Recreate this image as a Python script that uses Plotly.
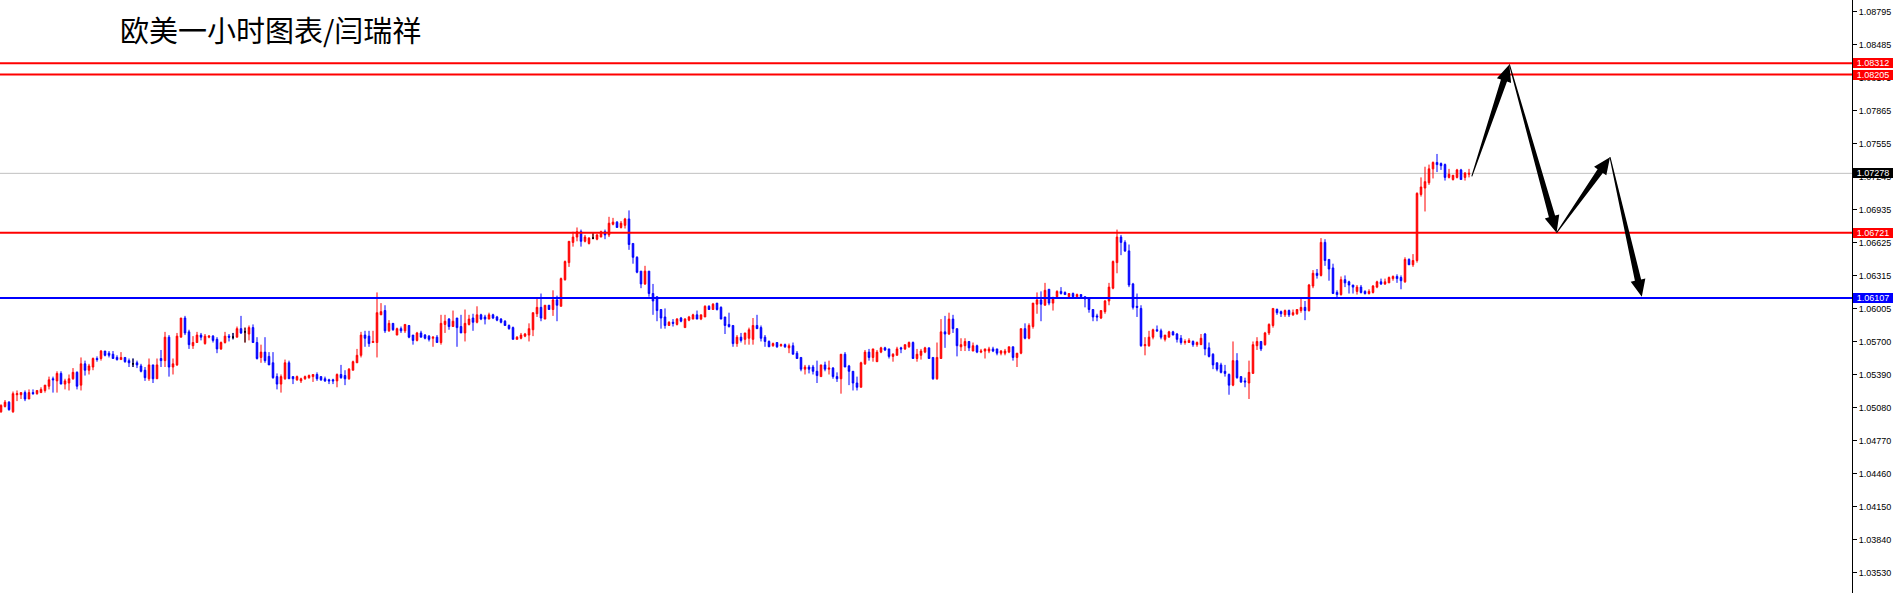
import math
import plotly.graph_objects as go

title_text = "欧美一小时图表/闫瑞祥"

opens = [
 1.0504,1.0509,1.0513,1.0504,1.0520,1.0520,1.0522,1.0516,1.0522,1.0521,
 1.0522,1.0524,1.0528,1.0535,1.0533,1.0540,1.0530,1.0531,1.0535,1.0541,
 1.0529,1.0549,1.0543,1.0546,1.0554,1.0554,1.0561,1.0559,1.0558,1.0555,
 1.0553,1.0555,1.0552,1.0549,1.0550,1.0547,1.0543,1.0535,1.0548,1.0535,
 1.0554,1.0552,1.0574,1.0546,1.0548,1.0574,1.0592,1.0579,1.0566,1.0569,
 1.0576,1.0568,1.0574,1.0575,1.0572,1.0563,1.0569,1.0575,1.0574,1.0574,
 1.0582,1.0579,1.0577,1.0583,1.0569,1.0555,1.0560,1.0556,1.0550,1.0537,
 1.0530,1.0535,1.0550,1.0537,1.0534,1.0533,1.0535,1.0536,1.0537,1.0539,
 1.0537,1.0535,1.0534,1.0534,1.0533,1.0539,1.0538,1.0535,1.0543,1.0550,
 1.0557,1.0576,1.0575,1.0569,1.0569,1.0595,1.0599,1.0580,1.0587,1.0576,
 1.0582,1.0580,1.0585,1.0576,1.0571,1.0578,1.0576,1.0575,1.0573,1.0574,
 1.0569,1.0586,1.0591,1.0584,1.0592,1.0584,1.0578,1.0586,1.0592,1.0588,
 1.0595,1.0593,1.0591,1.0595,1.0593,1.0591,1.0589,1.0585,1.0583,1.0572,
 1.0573,1.0575,1.0576,1.0581,1.0596,1.0602,1.0591,1.0604,1.0600,1.0609,
 1.0603,1.0628,1.0644,1.0663,1.0668,1.0673,1.0664,1.0662,1.0667,1.0666,
 1.0668,1.0673,1.0670,1.0680,1.0682,1.0677,1.0679,1.0685,1.0662,1.0649,
 1.0636,1.0624,1.0636,1.0615,1.0612,1.0600,1.0593,1.0585,1.0588,1.0586,
 1.0592,1.0583,1.0590,1.0591,1.0595,1.0591,1.0593,1.0603,1.0600,1.0606,
 1.0602,1.0593,1.0586,1.0585,1.0568,1.0574,1.0572,1.0573,1.0572,1.0585,
 1.0583,1.0574,1.0570,1.0566,1.0569,1.0566,1.0567,1.0564,1.0566,1.0559,
 1.0555,1.0544,1.0546,1.0546,1.0542,1.0537,1.0548,1.0544,1.0545,1.0537,
 1.0535,1.0558,1.0547,1.0542,1.0531,1.0527,1.0549,1.0560,1.0555,1.0551,
 1.0560,1.0564,1.0563,1.0556,1.0557,1.0564,1.0563,1.0565,1.0569,1.0554,
 1.0557,1.0560,1.0564,1.0555,1.0535,1.0554,1.0579,1.0577,1.0591,1.0582,
 1.0565,1.0566,1.0570,1.0561,1.0566,1.0560,1.0561,1.0561,1.0563,1.0563,
 1.0559,1.0559,1.0560,1.0565,1.0555,1.0559,1.0582,1.0573,1.0584,1.0605,
 1.0609,1.0604,1.0619,1.0606,1.0612,1.0617,1.0616,1.0612,1.0615,1.0612,
 1.0614,1.0612,1.0610,1.0600,1.0594,1.0592,1.0598,1.0608,1.0620,1.0644,
 1.0668,1.0663,1.0655,1.0624,1.0603,1.0601,1.0566,1.0566,1.0574,1.0581,
 1.0580,1.0572,1.0574,1.0579,1.0577,1.0573,1.0569,1.0569,1.0570,1.0567,
 1.0567,1.0577,1.0564,1.0558,1.0550,1.0548,1.0542,1.0539,1.0529,1.0552,
 1.0537,1.0533,1.0531,1.0540,1.0566,1.0570,1.0567,1.0578,1.0585,1.0600,
 1.0598,1.0595,1.0599,1.0595,1.0596,1.0599,1.0602,1.0599,1.0622,1.0634,
 1.0632,1.0663,1.0647,1.0639,1.0616,1.0614,1.0628,1.0626,1.0623,1.0617,
 1.0621,1.0617,1.0615,1.0616,1.0621,1.0626,1.0624,1.0625,1.0629,1.0631,
 1.0630,1.0626,1.0647,1.0642,1.0646,1.0708,1.0714,1.0719,1.0732,1.0738,
 1.0737,1.0736,1.0724,1.0722,1.0724,1.0731,1.0724,1.0727,
]

highs = [
 1.0511,1.0515,1.0514,1.0523,1.0524,1.0522,1.0524,1.0525,1.0525,1.0524,
 1.0527,1.0529,1.0537,1.0537,1.0542,1.0542,1.0535,1.0539,1.0545,1.0542,
 1.0555,1.0552,1.0549,1.0555,1.0556,1.0562,1.0561,1.0561,1.0561,1.0557,
 1.0560,1.0555,1.0554,1.0554,1.0552,1.0549,1.0546,1.0554,1.0548,1.0554,
 1.0562,1.0579,1.0576,1.0554,1.0578,1.0592,1.0594,1.0581,1.0575,1.0579,
 1.0578,1.0577,1.0576,1.0576,1.0574,1.0570,1.0579,1.0577,1.0578,1.0584,
 1.0594,1.0583,1.0585,1.0586,1.0574,1.0567,1.0574,1.0560,1.0560,1.0540,
 1.0539,1.0553,1.0552,1.0537,1.0538,1.0536,1.0538,1.0539,1.0539,1.0541,
 1.0537,1.0537,1.0535,1.0535,1.0540,1.0548,1.0543,1.0545,1.0552,1.0563,
 1.0579,1.0580,1.0580,1.0580,1.0616,1.0606,1.0604,1.0590,1.0587,1.0583,
 1.0584,1.0586,1.0585,1.0576,1.0579,1.0580,1.0577,1.0576,1.0575,1.0576,
 1.0595,1.0595,1.0592,1.0599,1.0592,1.0595,1.0600,1.0595,1.0596,1.0603,
 1.0596,1.0595,1.0597,1.0596,1.0594,1.0592,1.0590,1.0586,1.0584,1.0575,
 1.0578,1.0578,1.0587,1.0597,1.0610,1.0615,1.0604,1.0604,1.0618,1.0613,
 1.0630,1.0646,1.0664,1.0673,1.0677,1.0675,1.0670,1.0668,1.0672,1.0671,
 1.0674,1.0675,1.0687,1.0686,1.0683,1.0683,1.0686,1.0693,1.0662,1.0650,
 1.0636,1.0641,1.0636,1.0624,1.0612,1.0600,1.0601,1.0589,1.0591,1.0592,
 1.0593,1.0592,1.0594,1.0596,1.0599,1.0595,1.0604,1.0604,1.0606,1.0606,
 1.0603,1.0593,1.0597,1.0585,1.0576,1.0578,1.0578,1.0583,1.0592,1.0595,
 1.0585,1.0576,1.0571,1.0569,1.0569,1.0568,1.0568,1.0568,1.0569,1.0561,
 1.0555,1.0548,1.0548,1.0548,1.0552,1.0548,1.0551,1.0552,1.0546,1.0541,
 1.0558,1.0560,1.0548,1.0542,1.0537,1.0551,1.0562,1.0563,1.0563,1.0562,
 1.0565,1.0565,1.0563,1.0559,1.0565,1.0565,1.0567,1.0570,1.0570,1.0563,
 1.0563,1.0565,1.0564,1.0555,1.0569,1.0591,1.0594,1.0597,1.0595,1.0582,
 1.0573,1.0573,1.0570,1.0569,1.0567,1.0563,1.0563,1.0565,1.0565,1.0563,
 1.0562,1.0563,1.0565,1.0565,1.0559,1.0582,1.0587,1.0587,1.0606,1.0616,
 1.0617,1.0625,1.0619,1.0612,1.0618,1.0621,1.0617,1.0615,1.0616,1.0615,
 1.0614,1.0612,1.0610,1.0600,1.0596,1.0599,1.0609,1.0625,1.0646,1.0675,
 1.0670,1.0665,1.0661,1.0625,1.0615,1.0604,1.0574,1.0580,1.0582,1.0585,
 1.0582,1.0576,1.0580,1.0580,1.0578,1.0576,1.0572,1.0573,1.0571,1.0570,
 1.0577,1.0578,1.0569,1.0559,1.0550,1.0550,1.0548,1.0540,1.0570,1.0559,
 1.0537,1.0536,1.0552,1.0570,1.0574,1.0570,1.0579,1.0587,1.0601,1.0601,
 1.0599,1.0600,1.0600,1.0600,1.0600,1.0610,1.0608,1.0624,1.0637,1.0638,
 1.0667,1.0666,1.0647,1.0643,1.0618,1.0631,1.0632,1.0627,1.0623,1.0623,
 1.0623,1.0618,1.0619,1.0623,1.0627,1.0629,1.0629,1.0631,1.0632,1.0633,
 1.0632,1.0649,1.0648,1.0652,1.0710,1.0724,1.0734,1.0736,1.0739,1.0746,
 1.0738,1.0737,1.0732,1.0726,1.0732,1.0732,1.0729,1.0732,
]

lows = [
 1.0503,1.0508,1.0505,1.0503,1.0514,1.0516,1.0514,1.0516,1.0520,1.0520,
 1.0522,1.0522,1.0525,1.0522,1.0522,1.0530,1.0525,1.0524,1.0534,1.0525,
 1.0524,1.0538,1.0539,1.0543,1.0551,1.0552,1.0556,1.0555,1.0554,1.0552,
 1.0553,1.0550,1.0546,1.0546,1.0545,1.0541,1.0533,1.0533,1.0531,1.0535,
 1.0546,1.0546,1.0537,1.0539,1.0547,1.0574,1.0576,1.0563,1.0563,1.0569,
 1.0571,1.0567,1.0573,1.0569,1.0559,1.0562,1.0568,1.0570,1.0572,1.0574,
 1.0577,1.0569,1.0571,1.0569,1.0553,1.0550,1.0550,1.0548,1.0535,1.0525,
 1.0522,1.0534,1.0535,1.0530,1.0533,1.0531,1.0534,1.0535,1.0532,1.0533,
 1.0533,1.0532,1.0530,1.0530,1.0527,1.0535,1.0529,1.0534,1.0543,1.0550,
 1.0555,1.0565,1.0565,1.0569,1.0555,1.0595,1.0578,1.0579,1.0580,1.0576,
 1.0578,1.0578,1.0573,1.0567,1.0570,1.0574,1.0572,1.0570,1.0565,1.0569,
 1.0567,1.0578,1.0581,1.0584,1.0565,1.0578,1.0570,1.0585,1.0580,1.0587,
 1.0590,1.0586,1.0591,1.0591,1.0589,1.0587,1.0585,1.0581,1.0572,1.0572,
 1.0572,1.0574,1.0570,1.0575,1.0593,1.0589,1.0591,1.0600,1.0594,1.0589,
 1.0603,1.0627,1.0640,1.0659,1.0664,1.0659,1.0663,1.0661,1.0666,1.0665,
 1.0668,1.0666,1.0668,1.0679,1.0677,1.0676,1.0676,1.0656,1.0643,1.0634,
 1.0620,1.0623,1.0612,1.0595,1.0589,1.0582,1.0582,1.0585,1.0584,1.0585,
 1.0588,1.0583,1.0589,1.0591,1.0591,1.0590,1.0593,1.0600,1.0600,1.0599,
 1.0591,1.0577,1.0583,1.0565,1.0565,1.0569,1.0567,1.0567,1.0567,1.0582,
 1.0570,1.0565,1.0565,1.0565,1.0564,1.0565,1.0564,1.0559,1.0558,1.0554,
 1.0542,1.0539,1.0540,1.0539,1.0531,1.0537,1.0542,1.0539,1.0535,1.0532,
 1.0521,1.0546,1.0529,1.0524,1.0524,1.0527,1.0548,1.0552,1.0551,1.0551,
 1.0559,1.0561,1.0554,1.0551,1.0557,1.0559,1.0562,1.0564,1.0554,1.0551,
 1.0553,1.0559,1.0554,1.0534,1.0534,1.0554,1.0564,1.0576,1.0578,1.0556,
 1.0561,1.0561,1.0561,1.0561,1.0559,1.0559,1.0554,1.0559,1.0560,1.0557,
 1.0557,1.0557,1.0559,1.0552,1.0546,1.0558,1.0572,1.0572,1.0582,1.0596,
 1.0589,1.0604,1.0604,1.0599,1.0610,1.0614,1.0614,1.0612,1.0610,1.0612,
 1.0610,1.0602,1.0597,1.0589,1.0589,1.0591,1.0596,1.0604,1.0619,1.0634,
 1.0651,1.0654,1.0621,1.0600,1.0593,1.0565,1.0557,1.0565,1.0572,1.0579,
 1.0572,1.0570,1.0574,1.0576,1.0569,1.0567,1.0567,1.0569,1.0565,1.0565,
 1.0567,1.0557,1.0555,1.0544,1.0542,1.0540,1.0537,1.0520,1.0528,1.0535,
 1.0531,1.0527,1.0516,1.0540,1.0562,1.0561,1.0566,1.0576,1.0583,1.0595,
 1.0593,1.0593,1.0593,1.0594,1.0595,1.0597,1.0590,1.0598,1.0620,1.0629,
 1.0631,1.0641,1.0627,1.0615,1.0610,1.0613,1.0621,1.0615,1.0615,1.0614,
 1.0615,1.0614,1.0614,1.0615,1.0620,1.0623,1.0623,1.0625,1.0627,1.0625,
 1.0619,1.0625,1.0642,1.0640,1.0644,1.0706,1.0692,1.0717,1.0723,1.0729,
 1.0731,1.0721,1.0723,1.0721,1.0723,1.0722,1.0721,1.0724,
]

closes = [
 1.0510,1.0513,1.0506,1.0521,1.0521,1.0522,1.0516,1.0522,1.0521,1.0524,
 1.0525,1.0529,1.0534,1.0534,1.0540,1.0530,1.0533,1.0535,1.0541,1.0528,
 1.0549,1.0543,1.0547,1.0554,1.0553,1.0561,1.0557,1.0557,1.0554,1.0553,
 1.0555,1.0551,1.0550,1.0549,1.0548,1.0542,1.0536,1.0548,1.0535,1.0548,
 1.0552,1.0574,1.0546,1.0549,1.0575,1.0592,1.0578,1.0567,1.0569,1.0576,
 1.0574,1.0575,1.0575,1.0571,1.0563,1.0569,1.0575,1.0574,1.0574,1.0582,
 1.0578,1.0579,1.0583,1.0569,1.0554,1.0560,1.0552,1.0548,1.0536,1.0530,
 1.0537,1.0550,1.0535,1.0535,1.0537,1.0535,1.0537,1.0538,1.0539,1.0535,
 1.0534,1.0533,1.0533,1.0533,1.0539,1.0536,1.0535,1.0544,1.0551,1.0557,
 1.0576,1.0573,1.0568,1.0570,1.0597,1.0598,1.0580,1.0587,1.0581,1.0582,
 1.0580,1.0586,1.0574,1.0571,1.0578,1.0574,1.0573,1.0572,1.0574,1.0569,
 1.0587,1.0589,1.0584,1.0589,1.0583,1.0578,1.0587,1.0591,1.0588,1.0595,
 1.0591,1.0591,1.0595,1.0592,1.0590,1.0588,1.0585,1.0582,1.0572,1.0574,
 1.0576,1.0577,1.0582,1.0597,1.0602,1.0592,1.0604,1.0600,1.0609,1.0604,
 1.0629,1.0645,1.0664,1.0668,1.0673,1.0664,1.0668,1.0667,1.0667,1.0670,
 1.0673,1.0670,1.0681,1.0682,1.0677,1.0681,1.0685,1.0661,1.0649,1.0635,
 1.0624,1.0636,1.0615,1.0608,1.0599,1.0592,1.0585,1.0588,1.0587,1.0591,
 1.0589,1.0591,1.0593,1.0595,1.0591,1.0595,1.0603,1.0600,1.0605,1.0600,
 1.0591,1.0585,1.0584,1.0568,1.0574,1.0571,1.0578,1.0581,1.0585,1.0582,
 1.0573,1.0570,1.0565,1.0568,1.0565,1.0567,1.0565,1.0566,1.0558,1.0554,
 1.0544,1.0546,1.0544,1.0542,1.0538,1.0548,1.0544,1.0545,1.0537,1.0535,
 1.0558,1.0546,1.0542,1.0531,1.0527,1.0550,1.0560,1.0555,1.0563,1.0560,
 1.0564,1.0562,1.0556,1.0558,1.0563,1.0563,1.0567,1.0569,1.0554,1.0558,
 1.0561,1.0564,1.0554,1.0535,1.0555,1.0579,1.0577,1.0591,1.0582,1.0566,
 1.0567,1.0570,1.0564,1.0566,1.0560,1.0561,1.0563,1.0563,1.0561,1.0559,
 1.0561,1.0561,1.0565,1.0555,1.0559,1.0582,1.0573,1.0585,1.0606,1.0609,
 1.0605,1.0618,1.0606,1.0610,1.0617,1.0615,1.0614,1.0615,1.0612,1.0614,
 1.0612,1.0610,1.0600,1.0593,1.0593,1.0599,1.0608,1.0621,1.0645,1.0668,
 1.0663,1.0655,1.0623,1.0602,1.0602,1.0566,1.0567,1.0574,1.0581,1.0580,
 1.0574,1.0576,1.0579,1.0576,1.0572,1.0569,1.0570,1.0571,1.0567,1.0569,
 1.0573,1.0563,1.0556,1.0548,1.0544,1.0541,1.0540,1.0529,1.0552,1.0536,
 1.0532,1.0532,1.0541,1.0567,1.0570,1.0563,1.0578,1.0586,1.0601,1.0597,
 1.0596,1.0599,1.0595,1.0597,1.0600,1.0602,1.0599,1.0623,1.0634,1.0632,
 1.0663,1.0646,1.0638,1.0615,1.0614,1.0628,1.0625,1.0623,1.0621,1.0621,
 1.0616,1.0615,1.0617,1.0622,1.0626,1.0624,1.0626,1.0630,1.0631,1.0629,
 1.0627,1.0647,1.0642,1.0646,1.0709,1.0715,1.0720,1.0732,1.0738,1.0736,
 1.0735,1.0724,1.0727,1.0726,1.0731,1.0722,1.0728,1.07278,
]

# horizontal levels drawn on the chart
red_levels = [1.08312, 1.08205, 1.06721]
blue_levels = [1.06107]
current_price = 1.07278

# right axis tick labels (MT4 style)
tick_vals = [1.08795, 1.08485, 1.08175, 1.07865, 1.07555, 1.07245, 1.06935,
             1.06625, 1.06315, 1.06005, 1.05700, 1.05390, 1.05080, 1.04770,
             1.04460, 1.04150, 1.03840, 1.03530]
tick_text = ["%.5f" % v for v in tick_vals]

# forecast path drawn with arrows: (bar position, price)
arrow_bar = [367.7, 377.1, 388.9, 402.25, 410.2]
arrow_price = [1.0725, 1.0830, 1.0672, 1.0743, 1.0612]

# ---------------------------------------------------------------
W, H = 1893, 593
ML, MR, MT, MB = 0, 41, 0, 0
PW, PH = W - ML - MR, H - MT - MB
X0, X1 = -0.25, -0.25 + PW / 4.0
Y0, Y1 = 1.03339, 1.08905

n = min(len(opens), len(highs), len(lows), len(closes))
xs = list(range(n))

RED = "#FF0000"
BLUE = "#0000FF"

fig = go.Figure()
fig.add_trace(go.Candlestick(
    x=xs, open=opens[:n], high=highs[:n], low=lows[:n], close=closes[:n],
    increasing=dict(line=dict(color=RED, width=1), fillcolor=RED),
    decreasing=dict(line=dict(color=BLUE, width=1), fillcolor=BLUE),
    whiskerwidth=0, hoverinfo="skip", showlegend=False,
))

doji = [i for i in range(n) if opens[i] == closes[i]]
if doji:
    fig.add_trace(go.Candlestick(
        x=doji, open=[opens[i] for i in doji], high=[highs[i] for i in doji],
        low=[lows[i] for i in doji], close=[closes[i] for i in doji],
        increasing=dict(line=dict(color="black", width=1), fillcolor="black"),
        decreasing=dict(line=dict(color="black", width=1), fillcolor="black"),
        whiskerwidth=0, hoverinfo="skip", showlegend=False,
    ))

shapes = []
shapes.append(dict(type="line", xref="paper", yref="y", x0=0, x1=1,
                   y0=current_price, y1=current_price, layer="below",
                   line=dict(color="#C0C0C0", width=1)))
for lv in red_levels:
    shapes.append(dict(type="line", xref="paper", yref="y", x0=0, x1=1, y0=lv, y1=lv,
                       line=dict(color=RED, width=2)))
for lv in blue_levels:
    shapes.append(dict(type="line", xref="paper", yref="y", x0=0, x1=1, y0=lv, y1=lv,
                       line=dict(color=BLUE, width=2)))


def to_px(x, y):
    return ((x - X0) / (X1 - X0) * PW, (Y1 - y) / (Y1 - Y0) * PH)


def to_data(px, py):
    return (X0 + px / PW * (X1 - X0), Y1 - py / PH * (Y1 - Y0))


def arrow_path(p0, p1, w0=0.5, w1=3.2, hw=7.5, hl=17.0):
    ax, ay = to_px(*p0)
    bx, by = to_px(*p1)
    dx, dy = bx - ax, by - ay
    L = math.hypot(dx, dy)
    ux, uy = dx / L, dy / L
    nx, ny = -uy, ux
    cx, cy = bx - ux * hl, by - uy * hl
    pts = [(ax + nx * w0, ay + ny * w0), (cx + nx * w1, cy + ny * w1),
           (cx + nx * hw, cy + ny * hw), (bx, by),
           (cx - nx * hw, cy - ny * hw), (cx - nx * w1, cy - ny * w1),
           (ax - nx * w0, ay - ny * w0)]
    d = []
    for k, (px, py) in enumerate(pts):
        x, y = to_data(px, py)
        d.append(("M" if k == 0 else "L") + "%.4f,%.6f" % (x, y))
    return " ".join(d) + " Z"


for k in range(len(arrow_bar) - 1):
    shapes.append(dict(type="path", xref="x", yref="y",
                       path=arrow_path((arrow_bar[k], arrow_price[k]),
                                       (arrow_bar[k + 1], arrow_price[k + 1])),
                       fillcolor="black", line=dict(width=0)))

AX_FONT = "Liberation Sans, Arial, sans-serif"

annotations = [dict(
    text=title_text, xref="paper", yref="paper", x=118 / PW, y=1 - 28.5 / PH,
    xanchor="left", yanchor="middle", showarrow=False,
    font=dict(family="Noto Sans CJK SC, Microsoft YaHei, sans-serif", size=29, color="black"),
)]

label_levels = [(lv, RED) for lv in red_levels] + [(current_price, "black")] + \
               [(lv, BLUE) for lv in blue_levels]
for lv, col in label_levels:
    annotations.append(dict(
        text="%.5f" % lv, xref="paper", yref="y", x=1, y=lv,
        xanchor="left", yanchor="middle", xshift=1, showarrow=False,
        bgcolor=col, borderwidth=0, borderpad=0, width=40, height=10,
        align="center", font=dict(family=AX_FONT, size=9, color="white"),
    ))

fig.update_layout(
    width=W, height=H,
    margin=dict(l=ML, r=MR, t=MT, b=MB, pad=0),
    paper_bgcolor="white", plot_bgcolor="white",
    showlegend=False, boxgap=0.45,
    shapes=shapes, annotations=annotations,
    hovermode=False,
    xaxis=dict(range=[X0, X1], visible=False, rangeslider=dict(visible=False),
               showgrid=False, zeroline=False, fixedrange=True),
    yaxis=dict(range=[Y0, Y1], side="right", showgrid=False, zeroline=False,
               showline=True, linecolor="black", linewidth=1,
               ticks="outside", ticklen=4, tickcolor="black", tickwidth=1,
               tickvals=tick_vals, ticktext=tick_text,
               tickfont=dict(family=AX_FONT, size=9, color="black"),
               fixedrange=True),
)

fig.write_html(
    "out.html",
    config={"displayModeBar": False, "staticPlot": True},
    post_script="document.body.style.margin='0';document.body.style.padding='0';"
                "document.body.style.overflow='hidden';",
)
